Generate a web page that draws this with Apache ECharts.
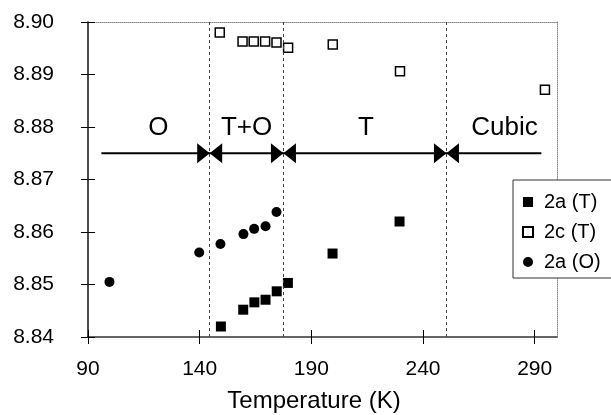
<!DOCTYPE html>
<html><head><meta charset="utf-8">
<script src="https://cdn.jsdelivr.net/npm/echarts@6/dist/echarts.min.js"></script>
<style>html,body{margin:0;padding:0;background:#fff}#c{width:611px;height:415px}</style>
</head><body><div id="c"></div>
<script>
const xTicks = [90, 140, 190, 240, 290];
const yTicks = [8.84, 8.85, 8.86, 8.87, 8.88, 8.89, 8.90];
const seriesNames = ['2a (T)', '2c (T)', '2a (O)'];
const a_T = [[149.5, 8.8420], [159.5, 8.8452], [164.5, 8.8466], [169.5, 8.8471], [174.5, 8.8487], [179.5, 8.8503], [199.5, 8.8559], [229.5, 8.8620]];
const c_T = [[149.0, 8.8980], [159.2, 8.8963], [164.2, 8.8963], [169.3, 8.8963], [174.4, 8.8961], [179.6, 8.8951], [199.6, 8.8957], [229.7, 8.8906], [294.6, 8.8871]];
const a_O = [[99.6, 8.8505], [139.8, 8.8561], [149.3, 8.8577], [159.6, 8.8596], [164.4, 8.8606], [169.5, 8.8611], [174.4, 8.8638]];
const boundaries = [144.5, 177.5, 250.5];
const arrowY = 8.875;
const arrowX = [96, 293];
const phaseNames = ['O', 'T+O', 'T', 'Cubic'];
const phaseX = [121.5, 161, 214.5, 276.5];
const phaseY = 8.8798;

const FONT = '"Liberation Sans", Arial, sans-serif';
const chart = echarts.init(document.getElementById('c'), null, {renderer: 'canvas'});
const xBase = {type: 'value', min: 90, max: 300, splitLine: {show: false}};
const yBase = {type: 'value', min: 8.84, max: 8.90, splitLine: {show: false}};
chart.setOption({
  animation: false,
  backgroundColor: '#fff',
  textStyle: {fontFamily: FONT, color: '#000'},
  grid: {left: 88, right: 54, top: 22, bottom: 78, containLabel: false, outerBoundsMode: 'none'},
  xAxis: [
    Object.assign({}, xBase, {
      position: 'bottom',
      axisLine: {show: true, lineStyle: {color: '#333', width: 1.5}},
      axisTick: {show: true, customValues: xTicks, length: 7, lineStyle: {color: '#000'}},
      axisLabel: {show: true, customValues: xTicks, fontSize: 21, margin: 22, color: '#000', fontFamily: FONT},
      name: 'Temperature (K)', nameLocation: 'middle', nameGap: 52,
      nameTextStyle: {fontSize: 24, color: '#000', fontFamily: FONT, padding: [0, 17, 0, 0]}
    }),
    Object.assign({}, xBase, {
      position: 'bottom', axisLine: {show: false},
      axisTick: {show: true, inside: true, customValues: xTicks, length: 7, lineStyle: {color: '#000'}},
      axisLabel: {show: false}
    }),
    Object.assign({}, xBase, {
      position: 'top', axisLine: {show: true, lineStyle: {color: '#888', type: 'dotted', width: 1}},
      axisTick: {show: false}, axisLabel: {show: false}
    })
  ],
  yAxis: [
    Object.assign({}, yBase, {
      position: 'left',
      axisLine: {show: true, lineStyle: {color: '#111', width: 1.5}},
      axisTick: {show: true, customValues: yTicks, length: 7, lineStyle: {color: '#000'}},
      axisLabel: {show: true, customValues: yTicks, fontSize: 21, margin: 34, color: '#000', fontFamily: FONT,
        formatter: v => v.toFixed(2)}
    }),
    Object.assign({}, yBase, {
      position: 'left', axisLine: {show: false},
      axisTick: {show: true, inside: true, customValues: yTicks, length: 7, lineStyle: {color: '#000'}},
      axisLabel: {show: false}
    }),
    Object.assign({}, yBase, {
      position: 'right', axisLine: {show: true, lineStyle: {color: '#888', type: 'dotted', width: 1}},
      axisTick: {show: false}, axisLabel: {show: false}
    })
  ],
  legend: {
    orient: 'vertical', left: 513, top: 180,
    data: seriesNames,
    itemWidth: 10, itemHeight: 10, itemGap: 10,
    padding: [12, 40, 6, 9],
    borderColor: '#333', borderWidth: 1, borderRadius: 0, backgroundColor: '#fff',
    textStyle: {fontSize: 20, color: '#000', fontFamily: FONT, padding: [0, 0, 0, 6]}
  },
  series: [
    {
      name: 'boundaries', type: 'line', data: [], silent: true,
      markLine: {
        silent: true, symbol: ['none', 'none'], label: {show: false},
        lineStyle: {type: [3, 3], color: '#444', width: 1},
        data: boundaries.map(b => ({xAxis: b}))
      }
    },
    {
      name: 'arrow', type: 'line', silent: true, symbol: 'none',
      data: arrowX.map(x => [x, arrowY]),
      lineStyle: {color: '#000', width: 2}
    },
    {
      name: 'bowties', type: 'custom', silent: true,
      data: boundaries.map(b => [b, arrowY]),
      renderItem: (params, api) => {
        const p = api.coord([api.value(0), api.value(1)]);
        const w = 12.5, h = 10;
        return {type: 'group', children: [
          {type: 'polygon', shape: {points: [[p[0] - w, p[1] - h], [p[0], p[1]], [p[0] - w, p[1] + h]]}, style: {fill: '#000'}},
          {type: 'polygon', shape: {points: [[p[0] + w, p[1] - h], [p[0], p[1]], [p[0] + w, p[1] + h]]}, style: {fill: '#000'}}
        ]};
      }
    },
    {
      name: 'phases', type: 'custom', silent: true,
      data: phaseX.map(x => [x, phaseY]),
      renderItem: (params, api) => {
        const p = api.coord([api.value(0), api.value(1)]);
        return {type: 'text', x: p[0], y: p[1], style: {
          text: phaseNames[params.dataIndex], fontSize: 26, fontFamily: FONT, fill: '#000',
          align: 'center', verticalAlign: 'middle'}};
      }
    },
    {
      name: seriesNames[0], type: 'scatter', data: a_T, symbol: 'rect', symbolSize: 10,
      itemStyle: {color: '#000', opacity: 1}
    },
    {
      name: seriesNames[1], type: 'scatter', data: c_T, symbol: 'rect', symbolSize: 9,
      itemStyle: {color: '#fff', borderColor: '#000', borderWidth: 1.5, opacity: 1}
    },
    {
      name: seriesNames[2], type: 'scatter', data: a_O, symbol: 'circle', symbolSize: 10,
      itemStyle: {color: '#000', opacity: 1}
    }
  ]
});
</script></body></html>
